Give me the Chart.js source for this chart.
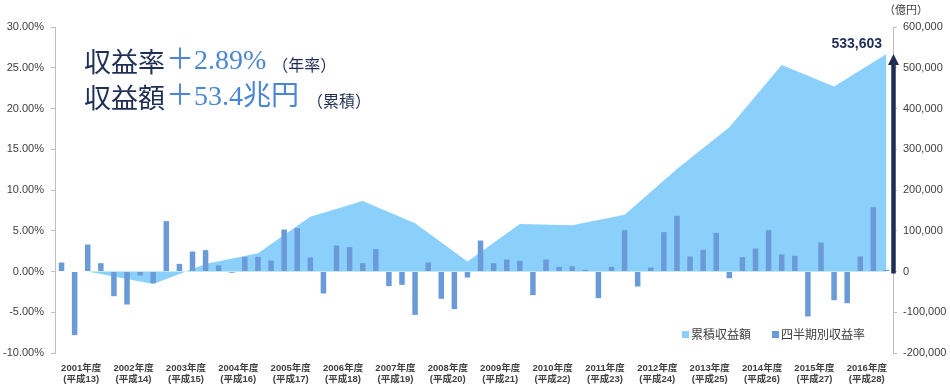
<!DOCTYPE html>
<html>
<head>
<meta charset="utf-8">
<script src="https://cdn.jsdelivr.net/npm/chart.js@4/dist/chart.umd.min.js"></script>
<style>
  html, body { margin: 0; padding: 0; background: #ffffff; }
  #wrap { width: 950px; height: 389px; }
</style>
</head>
<body>
<div id="wrap"><canvas id="c" width="950" height="389"></canvas></div>
<script>
// ---- data ----
const fiscalYears = ['2001年度','2002年度','2003年度','2004年度','2005年度','2006年度','2007年度','2008年度',
                     '2009年度','2010年度','2011年度','2012年度','2013年度','2014年度','2015年度','2016年度'];
const heiseiLabels = ['(平成13)','(平成14)','(平成15)','(平成16)','(平成17)','(平成18)','(平成19)','(平成20)',
                      '(平成21)','(平成22)','(平成23)','(平成24)','(平成25)','(平成26)','(平成27)','(平成28)'];
const quarterNames = ['Q1','Q2','Q3','Q4'];
// quarterly return (%)
const quarterlyReturn = [
  1.10, -7.81, 3.31, 1.02,
  -3.03, -4.05, -0.49, -1.43,
  6.18, 0.94, 2.45, 2.62,
  0.74, -0.16, 1.80, 1.80,
  1.35, 5.15, 5.32, 1.72,
  -2.70, 3.19, 2.99, 1.02,
  2.74, -1.80, -1.64, -5.32,
  1.10, -3.35, -4.62, -0.74,
  3.80, 1.02, 1.47, 1.31,
  -2.90, 1.47, 0.57, 0.65,
  0.20, -3.27, 0.57, 5.07,
  -1.84, 0.49, 4.83, 6.83,
  1.84, 2.66, 4.74, -0.82,
  1.76, 2.82, 5.07, 2.09,
  1.92, -5.52, 3.56, -3.52,
  -3.89, 1.84, 7.89, 0.19
];
// cumulative return at fiscal-year end (億円)
const cumulativeAnnual = [-5874, -30400, 18500, 44600, 134300, 173300, 118100, 24700,
                          116500, 113500, 139000, 251800, 354000, 507000, 453900, 533603];
const cumulativeStart = 0;   // starting point of the area (before FY2001 year-end)
const leftTicks = { min: -10, max: 30, step: 5 };
const rightTicks = { min: -200000, max: 600000, step: 100000 };
const headline1 = ['収益率', '＋2.89%', '（年率）'];
const headline2 = ['収益額', '＋53.4兆円', '（累積）'];
const unitLabel = '（億円）';

// ---- derived tables ----
const quarterLabels = [];
fiscalYears.forEach(y => quarterNames.forEach(q => quarterLabels.push(y + q)));
const cumulativeSeries = quarterLabels.map(() => null);
cumulativeSeries[2] = cumulativeStart;
cumulativeAnnual.forEach((v, i) => { cumulativeSeries[i * 4 + 3] = v; });
const yearAxisLabels = fiscalYears.map((y, i) => [y, heiseiLabels[i]]);
const finalCumulative = cumulativeAnnual[cumulativeAnnual.length - 1];

const NAVY = '#1F2F54';
const BLUE = '#4A86D6';
const BAR = '#6A9BD8';
const AREA = '#8BD0FA';
const TICK = '#404040';
const AXIS = '#BFBFBF';
const SANS = '"Liberation Sans", "Noto Sans CJK JP", sans-serif';
const SERIF = '"Liberation Serif", "Noto Sans CJK JP", serif';
const CJK = '"Noto Sans CJK JP", sans-serif';

const fmt = n => n.toLocaleString('en-US');

const overlay = {
  id: 'overlay',
  afterDatasetsDraw(chart) {
    const ctx = chart.ctx;
    const ca = chart.chartArea;
    const y1 = chart.scales.y1;
    ctx.save();
    // arrow
    const ax = ca.right + 0.5;
    const yZero = y1.getPixelForValue(0);
    const yTop = y1.getPixelForValue(finalCumulative);
    ctx.strokeStyle = NAVY; ctx.fillStyle = NAVY;
    ctx.lineWidth = 4.5;
    ctx.beginPath(); ctx.moveTo(ax, yZero + 2); ctx.lineTo(ax, yTop + 9); ctx.stroke();
    ctx.beginPath();
    ctx.moveTo(ax, yTop);
    ctx.lineTo(ax - 5.5, yTop + 11);
    ctx.lineTo(ax + 5.5, yTop + 11);
    ctx.closePath(); ctx.fill();
    // value label
    ctx.font = 'bold 14px ' + SANS;
    ctx.textAlign = 'right'; ctx.textBaseline = 'middle';
    ctx.fillText(fmt(finalCumulative), 882, yTop - 10);
    // unit
    ctx.font = '11px ' + CJK; ctx.fillStyle = TICK; ctx.textAlign = 'left';
    ctx.fillText(unitLabel, 884, 10);

    // headline
    const runs = (x, y, parts, gap) => {
      ctx.textAlign = 'left'; ctx.textBaseline = 'middle';
      ctx.font = '27px ' + CJK; ctx.fillStyle = NAVY;
      ctx.fillText(parts[0], x, y); x += ctx.measureText(parts[0]).width + 1;
      ctx.font = '28px ' + SERIF; ctx.fillStyle = BLUE;
      ctx.fillText(parts[1], x, y); x += ctx.measureText(parts[1]).width + gap;
      ctx.font = '16px ' + CJK; ctx.fillStyle = NAVY;
      ctx.fillText(parts[2], x, y + 3);
    };
    runs(84, 62, headline1, 6);
    runs(84, 98, headline2, 8);

    // legend
    const ds = chart.data.datasets;
    const items = [ds[1], ds[0]];
    const lx = [682, 772];
    ctx.font = '12px ' + CJK; ctx.textBaseline = 'middle'; ctx.textAlign = 'left';
    items.forEach((d, i) => {
      ctx.fillStyle = d.backgroundColor;
      ctx.fillRect(lx[i], 331, 7, 7);
      ctx.fillStyle = TICK;
      ctx.fillText(d.label, lx[i] + 9, 334.5);
    });
    ctx.restore();
  }
};

new Chart(document.getElementById('c'), {
  data: {
    labels: quarterLabels,
    datasets: [
      {
        type: 'bar', label: '四半期別収益率', data: quarterlyReturn,
        xAxisID: 'x', yAxisID: 'y',
        backgroundColor: BAR, borderWidth: 0,
        categoryPercentage: 1, barPercentage: 0.42, order: 0
      },
      {
        type: 'line', label: '累積収益額', data: cumulativeSeries,
        xAxisID: 'x', yAxisID: 'y1',
        fill: 'origin', backgroundColor: AREA, borderColor: AREA, borderWidth: 0,
        pointRadius: 0, spanGaps: true, tension: 0, order: 1
      }
    ]
  },
  options: {
    responsive: false, animation: false, devicePixelRatio: 1,
    layout: { padding: { top: 27, left: 0, right: 0, bottom: 0 } },
    plugins: { legend: { display: false }, tooltip: { enabled: false } },
    scales: {
      x: { type: 'category', display: false, offset: true },
      xYear: {
        type: 'category', labels: yearAxisLabels, position: 'bottom', offset: true,
        grid: { display: false }, border: { display: false },
        ticks: { color: TICK, font: { family: SANS, size: 9.5, weight: 'bold', lineHeight: 1.25 },
                 maxRotation: 0, autoSkip: false, padding: 1 },
        afterFit: s => { s.height = 36; }
      },
      y: {
        position: 'left', min: leftTicks.min, max: leftTicks.max,
        ticks: { stepSize: leftTicks.step, color: TICK, font: { family: SANS, size: 11 }, padding: 7,
                 callback: v => v.toFixed(2) + '%' },
        grid: { drawOnChartArea: false, tickLength: 4, color: AXIS },
        border: { color: AXIS },
        afterFit: s => { s.width = 55; }
      },
      y1: {
        position: 'right', min: rightTicks.min, max: rightTicks.max,
        ticks: { stepSize: rightTicks.step, color: TICK, font: { family: SANS, size: 11 }, padding: 6,
                 callback: v => fmt(v) },
        grid: { drawOnChartArea: false, tickLength: 4, color: AXIS },
        border: { color: AXIS },
        afterFit: s => { s.width = 57; }
      }
    }
  },
  plugins: [overlay]
});
</script>
</body>
</html>
